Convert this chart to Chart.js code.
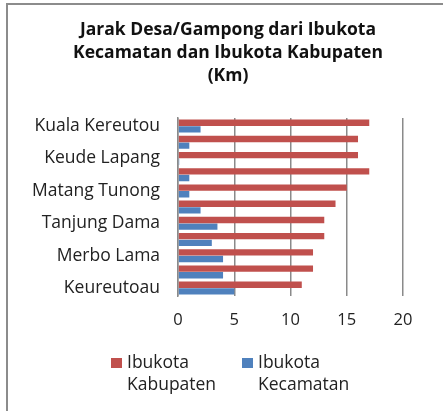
<!DOCTYPE html>
<html>
<head>
<meta charset="utf-8">
<script src="https://cdn.jsdelivr.net/npm/chart.js@4/dist/chart.umd.min.js"></script>
<style>
  html, body { margin: 0; padding: 0; background: #fff; overflow: hidden; }
  #frame { position: absolute; left: 6px; top: 3px; width: 460px; height: 430px; border: 2px solid #8c8c8c; box-sizing: border-box; }
  #wrap { position: absolute; left: 0; top: 0; width: 443px; height: 411px; }
</style>
</head>
<body>
<div id="frame"></div>
<div id="wrap"><canvas id="distChart" width="443" height="411"></canvas></div>
<script>
// categories listed top to bottom; unlabelled rows are skipped in the source chart
const villages = ["Kuala Kereutou", "", "Keude Lapang", "", "Matang Tunong", "", "Tanjung Dama", "", "Merbo Lama", "", "Keureutoau"];
const kabupaten = [17, 16, 16, 17, 15, 14, 13, 13, 12, 12, 11];
const kecamatan = [2, 1, 0.1, 1, 1, 2, 3.5, 3, 4, 4, 5];
const seriesNames = [["Ibukota", "Kabupaten"], ["Ibukota", "Kecamatan"]];
const titleLines = ["Jarak Desa/Gampong dari Ibukota", "Kecamatan dan Ibukota Kabupaten", "(Km)"];

const FONT = "'Open Sans', sans-serif";

// title centred on the frame, two-line legend under the axis
const textPlugin = {
  id: "frameText",
  afterDraw(chart) {
    const ctx = chart.ctx;
    ctx.save();
    ctx.textBaseline = "middle";
    ctx.textAlign = "center";
    ctx.fillStyle = "#111";
    ctx.font = "bold 17.5px " + FONT;
    titleLines.forEach((line, i) => ctx.fillText(line, 228, 30 + i * 23));

    const xs = [111, 242];
    ctx.textAlign = "left";
    ctx.font = "17.5px " + FONT;
    chart.data.datasets.forEach((ds, i) => {
      ctx.fillStyle = ds.backgroundColor;
      ctx.fillRect(xs[i], 358, 11, 10);
      ctx.fillStyle = "#222";
      seriesNames[i].forEach((line, j) => {
        ctx.fillText(line, xs[i] + 16, 363 + j * 22);
      });
    });
    ctx.restore();
  }
};

new Chart(document.getElementById("distChart"), {
  type: "bar",
  data: {
    labels: villages,
    datasets: [
      { label: "Ibukota Kabupaten", data: kabupaten, backgroundColor: "#c0504d", borderWidth: 0 },
      { label: "Ibukota Kecamatan", data: kecamatan, backgroundColor: "#4f81bd", borderWidth: 0 }
    ]
  },
  options: {
    indexAxis: "y",
    responsive: false,
    animation: false,
    datasets: { bar: { categoryPercentage: 0.82, barPercentage: 0.95 } },
    layout: { padding: { left: 14, right: 40, top: 118, bottom: 67 } },
    plugins: {
      legend: { display: false },
      tooltip: { enabled: false },
      title: { display: false }
    },
    scales: {
      x: {
        min: 0,
        max: 20,
        ticks: { stepSize: 5, color: "#222", font: { family: FONT, size: 16.5 }, padding: 14 },
        grid: { color: "#8a8a8a", lineWidth: 1.5, drawTicks: false },
        border: { display: false }
      },
      y: {
        ticks: { autoSkip: false, color: "#222", font: { family: FONT, size: 17.5 }, padding: 18 },
        grid: { display: false, drawTicks: false },
        border: { display: true, color: "#8a8a8a", width: 1.5 }
      }
    }
  },
  plugins: [textPlugin]
});
</script>
</body>
</html>
